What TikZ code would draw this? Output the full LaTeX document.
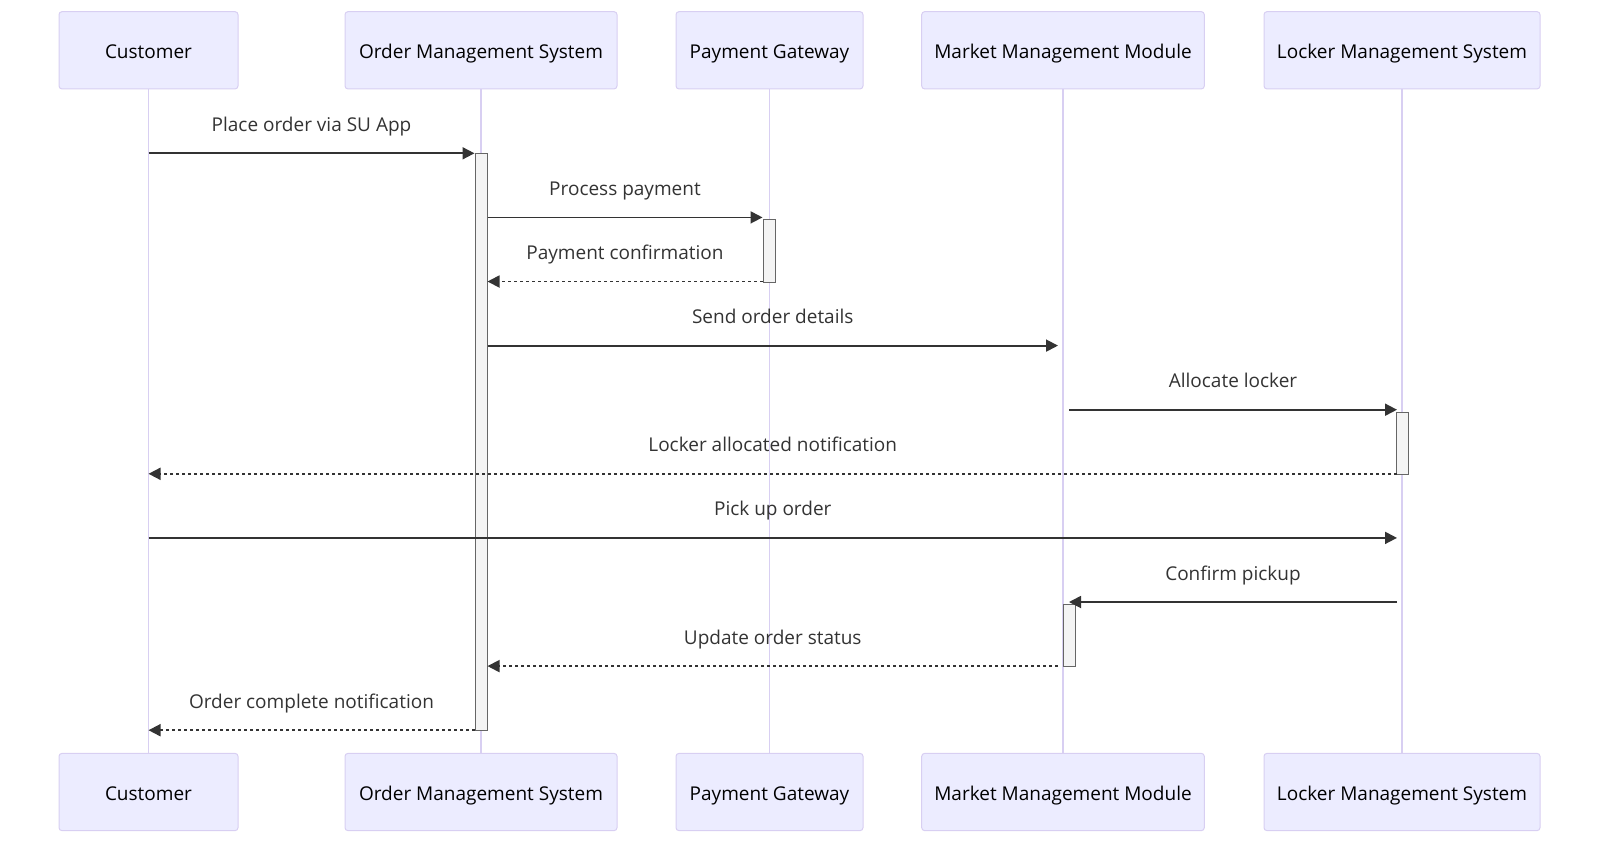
\documentclass[tikz,border=0pt]{standalone}
\usepackage{fontspec}
\setmainfont{Open Sans}
\usepackage{tikz}
\usetikzlibrary{arrows.meta}
\usetikzlibrary{positioning}

\definecolor{actfill}{HTML}{ECECFF}
\definecolor{actline}{HTML}{D8CFF2}
\definecolor{msgcol}{HTML}{333333}
\definecolor{barfill}{HTML}{F4F4F4}
\definecolor{barline}{HTML}{666666}

\tikzset{
  actor/.style={draw=actline, fill=actfill, line width=1pt, rounded corners=3pt,
                minimum height=77.3pt, inner sep=0pt, text=black,
                text height=16pt, text depth=0pt,
                font=\fontsize{19pt}{23pt}\selectfont},
  lifeline/.style={draw=actline, line width=1.7pt},
  bar/.style={draw=barline, fill=barfill, line width=1pt, minimum width=12pt,
              inner sep=0pt, anchor=north},
  msg/.style={draw=msgcol, line width=1.8pt, -{Triangle[length=12pt,width=12pt]}},
  reply/.style={msg, dash pattern=on 3pt off 3pt},
  lbl/.style={midway, yshift=27pt, inner sep=0pt, text=msgcol,
              text height=14pt, text depth=4pt,
              font=\fontsize{19pt}{23pt}\selectfont}
}

\begin{document}
\begin{tikzpicture}[x=1pt, y=-1pt]
\useasboundingbox (0,0) rectangle (1600,844);

% participants, top row
\node[actor, minimum width=179pt] (cTop) at (148.5,50.3) {Customer};
\node[actor, minimum width=272pt] (oTop) at (481,50.3) {Order Management System};
\node[actor, minimum width=187pt] (pTop) at (769.5,50.3) {Payment Gateway};
\node[actor, minimum width=282.6pt] (mTop) at (1063,50.3) {Market Management Module};
\node[actor, minimum width=276pt] (lTop) at (1402,50.3) {Locker Management System};

% participants, bottom row
\node[actor, minimum width=179pt] (cBot) at (148.5,792) {Customer};
\node[actor, minimum width=272pt] (oBot) at (481,792) {Order Management System};
\node[actor, minimum width=187pt] (pBot) at (769.5,792) {Payment Gateway};
\node[actor, minimum width=282.6pt] (mBot) at (1063,792) {Market Management Module};
\node[actor, minimum width=276pt] (lBot) at (1402,792) {Locker Management System};

% lifelines
\draw[lifeline] (cTop.south) -- (cBot.north);
\draw[lifeline] (oTop.south) -- (oBot.north);
\draw[lifeline] (pTop.south) -- (pBot.north);
\draw[lifeline] (mTop.south) -- (mBot.north);
\draw[lifeline] (lTop.south) -- (lBot.north);

% message rows
\coordinate (r1) at (0,153.3);
\coordinate (r2) at (0,217.4);
\coordinate (r3) at (0,281.5);
\coordinate (r4) at (0,345.6);
\coordinate (r5) at (0,409.7);
\coordinate (r6) at (0,473.8);
\coordinate (r7) at (0,537.9);
\coordinate (r8) at (0,602.0);
\coordinate (r9) at (0,666.1);
\coordinate (r10) at (0,730.2);

% activations
\node[bar, minimum height=576.9pt] (aOMS) at (481,153.3) {};
\node[bar, minimum height=62.5pt] (aPG) at (769,219) {};
\node[bar, minimum height=62.3pt] (aLMS) at (1402,411.5) {};
\node[bar, minimum height=62.6pt] (aMMM) at (1069,603.5) {};

% messages
\draw[msg] (cTop.south |- r1) -- node[lbl] (t1) {Place order via SU App} (aOMS.west |- r1);
\draw[msg] (aOMS.east |- r2) -- node[lbl] (t2) {Process payment} (aPG.west |- r2);
\draw[reply] (aPG.west |- r3) -- node[lbl] (t3) {Payment confirmation} (aOMS.east |- r3);
\draw[msg] (aOMS.east |- r4) -- node[lbl] (t4) {Send order details} ([xshift=-5pt]mTop.south |- r4);
\draw[msg] (aMMM.north |- r5) -- node[lbl] (t5) {Allocate locker} ([xshift=-5pt]lTop.south |- r5);
\draw[reply] ([xshift=-5pt]lTop.south |- r6) -- node[lbl] (t6) {Locker allocated notification} (cTop.south |- r6);
\draw[msg] (cTop.south |- r7) -- node[lbl] (t7) {Pick up order} ([xshift=-5pt]lTop.south |- r7);
\draw[msg] ([xshift=-5pt]lTop.south |- r8) -- node[lbl] (t8) {Confirm pickup} (aMMM.north |- r8);
\draw[reply] ([xshift=-5pt]mTop.south |- r9) -- node[lbl] (t9) {Update order status} (aOMS.east |- r9);
\draw[reply] (aOMS.west |- r10) -- node[lbl] (t10) {Order complete notification} (cTop.south |- r10);
\end{tikzpicture}
\end{document}
